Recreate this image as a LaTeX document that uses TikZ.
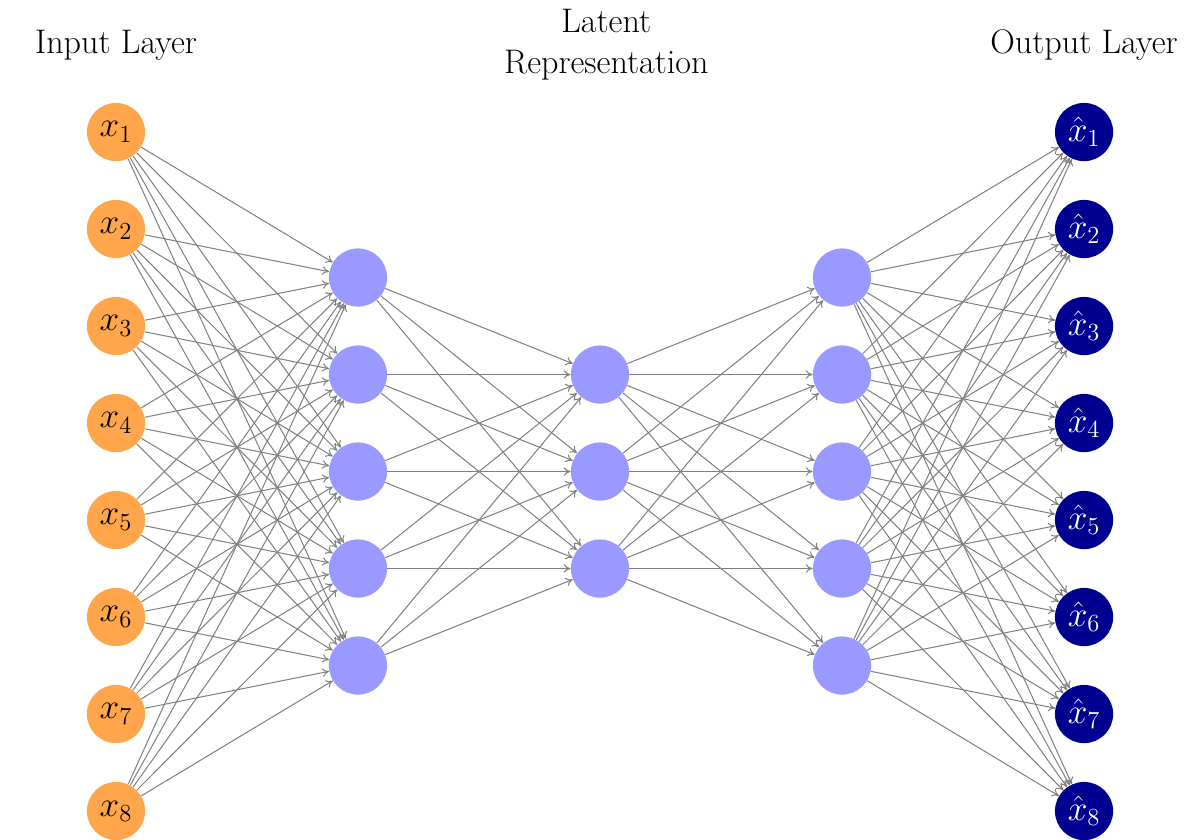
\documentclass[tikz,border=0pt]{standalone}
\usetikzlibrary{arrows.meta}
\definecolor{inorange}{RGB}{255,165,75}
\definecolor{hidblue}{RGB}{153,153,255}
\definecolor{outnavy}{RGB}{0,0,145}
\begin{document}
\begin{tikzpicture}[
  neuron/.style={circle,minimum size=1.2cm,inner sep=0pt,font=\fontsize{20}{24}\selectfont},
  inneuron/.style={neuron,fill=inorange},
  hidneuron/.style={neuron,fill=hidblue},
  outneuron/.style={neuron,fill=outnavy,text=white},
  conn/.style={draw=gray,line width=0.6pt,-{To[length=4pt,width=5pt]}},
  lbl/.style={font=\fontsize{20}{24}\selectfont,align=center}]
\useasboundingbox (0,0) rectangle (24.742,-17.299);
\foreach \i in {1,...,8}{
  \node[inneuron] (I\i) at (2.392,{-2.722-2*(\i-1)}) {$x_{\i}$};
  \node[outneuron] (O\i) at (22.351,{-2.722-2*(\i-1)}) {$\hat{x}_{\i}$};
}
\foreach \i in {1,...,5}{
  \node[hidneuron] (A\i) at (7.381,{-5.722-2*(\i-1)}) {};
  \node[hidneuron] (C\i) at (17.361,{-5.722-2*(\i-1)}) {};
}
\foreach \i in {1,...,3}{
  \node[hidneuron] (B\i) at (12.371,{-7.722-2*(\i-1)}) {};
}
\foreach \i in {1,...,8}{\foreach \j in {1,...,5}{\draw[conn] (I\i) -- (A\j);}}
\foreach \i in {1,...,5}{\foreach \j in {1,...,3}{\draw[conn] (A\i) -- (B\j);}}
\foreach \i in {1,...,3}{\foreach \j in {1,...,5}{\draw[conn] (B\i) -- (C\j);}}
\foreach \i in {1,...,5}{\foreach \j in {1,...,8}{\draw[conn] (C\i) -- (O\j);}}
\node[lbl] (LI) at (2.392,-0.93) {Input Layer};
\node[lbl] (LL) at (12.5,-0.93) {Latent\\Representation};
\node[lbl] (LO) at (22.351,-0.93) {Output Layer};
\end{tikzpicture}
\end{document}
